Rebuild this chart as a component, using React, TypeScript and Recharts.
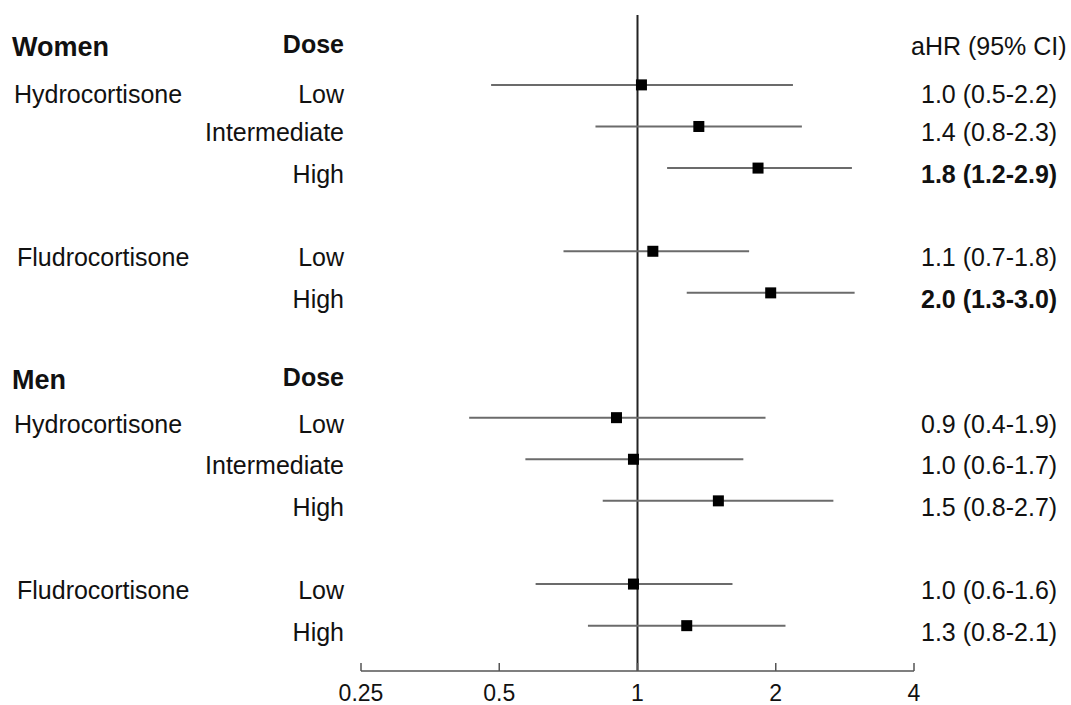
import { ErrorBar, ReferenceLine, Scatter, ScatterChart, XAxis, YAxis } from 'recharts';

// rows of the forest plot, top to bottom (gaps are blank rows)
const headerRows = [0, 8];
const headerSex = ['Women', 'Men'];

const rowIndex = [1, 2, 3, 5, 6, 9, 10, 11, 13, 14];
const drugLabel = [
  'Hydrocortisone', '', '', 'Fludrocortisone', '',
  'Hydrocortisone', '', '', 'Fludrocortisone', '',
];
const doseLabel = ['Low', 'Intermediate', 'High', 'Low', 'High', 'Low', 'Intermediate', 'High', 'Low', 'High'];
const estimate = [1.02, 1.36, 1.83, 1.08, 1.95, 0.9, 0.98, 1.5, 0.98, 1.28];
const lower = [0.48, 0.81, 1.16, 0.69, 1.28, 0.43, 0.57, 0.84, 0.6, 0.78];
const upper = [2.18, 2.28, 2.93, 1.75, 2.97, 1.9, 1.7, 2.67, 1.61, 2.1];
const ciText = [
  '1.0 (0.5-2.2)', '1.4 (0.8-2.3)', '1.8 (1.2-2.9)', '1.1 (0.7-1.8)', '2.0 (1.3-3.0)',
  '0.9 (0.4-1.9)', '1.0 (0.6-1.7)', '1.5 (0.8-2.7)', '1.0 (0.6-1.6)', '1.3 (0.8-2.1)',
];
const significant = [false, false, true, false, true, false, false, false, false, false];

const xTicks = [0.25, 0.5, 1, 2, 4];

const font = '"Liberation Sans", Arial, Helvetica, sans-serif';
const ink = '#111';

const rows = rowIndex.map((row, i) => ({
  row,
  est: estimate[i],
  err: [estimate[i] - lower[i], upper[i] - estimate[i]],
}));

const allTicks = [...headerRows, ...rowIndex].sort((a, b) => a - b);

function RowTick({ y, payload }: any) {
  const row = payload.value;
  const h = headerRows.indexOf(row);
  if (h >= 0) {
    return (
      <g fontFamily={font} fill={ink}>
        <text x={12} y={y + 13} fontSize={27} fontWeight="bold">{headerSex[h]}</text>
        <text x={344} y={y + 10} fontSize={25} fontWeight="bold" textAnchor="end">Dose</text>
        {h === 0 ? (
          <text x={911} y={y + 12} fontSize={25}>aHR (95% CI)</text>
        ) : null}
      </g>
    );
  }
  const i = rowIndex.indexOf(row);
  if (i < 0) return null;
  const dy = i === 0 ? 18 : 15;
  return (
    <g fontFamily={font} fill={ink}>
      {drugLabel[i] ? (
        <text x={drugLabel[i].startsWith('F') ? 17 : 14} y={y + dy} fontSize={25}>{drugLabel[i]}</text>
      ) : null}
      <text x={344} y={y + dy} fontSize={25} textAnchor="end">{doseLabel[i]}</text>
      <text x={921} y={y + dy} fontSize={25} fontWeight={significant[i] ? 'bold' : 'normal'}>
        {ciText[i]}
      </text>
    </g>
  );
}

function AxisTick({ x, y, payload }: any) {
  return (
    <g>
      <line x1={x} x2={x} y1={y - 8} y2={y} stroke="#555" strokeWidth={1.5} />
      <text x={x} y={y + 30} fontSize={23} fontFamily={font} fill={ink} textAnchor="middle">
        {String(payload.value)}
      </text>
    </g>
  );
}

function Square(props: any) {
  const { cx, cy } = props;
  return <rect x={cx - 5.5} y={cy - 5.5} width={11} height={11} fill="#000" />;
}

export default function App() {
  return (
    <div style={{ position: 'absolute', top: 0, left: 0, width: 1071, height: 705, background: '#fff' }}>
      <ScatterChart width={1071} height={705} margin={{ top: 15, right: 157, left: 0, bottom: 0 }}>
        <XAxis
          type="number"
          dataKey="est"
          scale="log"
          domain={[0.25, 4]}
          ticks={xTicks}
          allowDataOverflow
          height={34}
          stroke="#555"
          strokeWidth={1.5}
          tickLine={false}
          tickSize={0}
          tickMargin={0}
          tick={<AxisTick />}
          interval={0}
        />
        <YAxis
          type="number"
          dataKey="row"
          domain={[-0.68, 15.09]}
          reversed
          allowDataOverflow
          ticks={allTicks}
          interval={0}
          width={361}
          axisLine={false}
          tickLine={false}
          tickSize={0}
          tickMargin={0}
          tick={<RowTick />}
        />
        <ReferenceLine x={1} stroke="#222" strokeWidth={2} />
        <Scatter data={rows} shape={<Square />} isAnimationActive={false}>
          <ErrorBar
            dataKey="err"
            direction="x"
            width={0}
            stroke="#6b6b6b"
            strokeWidth={2}
            isAnimationActive={false}
          />
        </Scatter>
      </ScatterChart>
    </div>
  );
}
